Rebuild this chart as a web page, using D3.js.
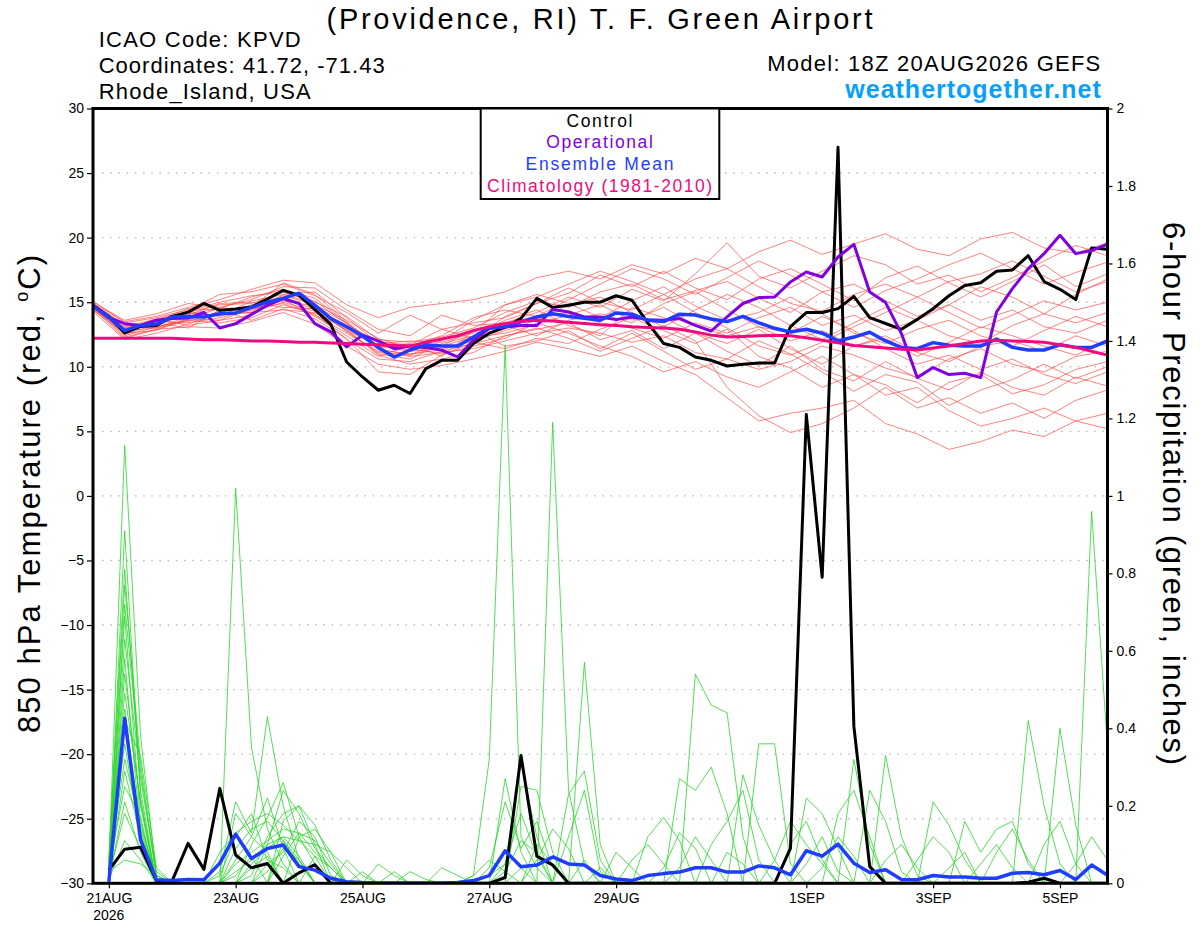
<!DOCTYPE html>
<html>
<head>
<meta charset="utf-8">
<script src="https://cdn.jsdelivr.net/npm/d3@7"></script>
<style>
  body { margin: 0; background: #fff; }
  svg { display: block; font-family: "Liberation Sans", Arial, Helvetica, sans-serif; }
  .axis text { font-size: 14px; fill: #000; font-family: "Liberation Sans", Arial, sans-serif; }
  .axis line { stroke: #000; stroke-width: 1.2; }
  .axis path { display: none; }
</style>
</head>
<body>
<svg id="chart" width="1200" height="927"></svg>
<script>
// GEFS 850 hPa temperature + 6-hour precipitation plume, KPVD, 18Z 20AUG2026 run.
// Thick series are 6-hourly from 18Z 20AUG (index 0) to 18Z 05SEP (index 64).

const controlTemp = [14.76, 13.9, 12.62, 13.13, 13.2, 13.9, 14.23, 14.9, 14.37, 14.47, 14.63, 15.25, 15.92, 15.53, 14.43, 13.29,
  10.37, 9.21, 8.18, 8.57, 7.93, 9.86, 10.5, 10.5, 11.8, 12.6, 13.05, 13.75, 15.3, 14.6, 14.76, 15.0, 15.0, 15.5, 15.15, 13.4,
  11.8, 11.5, 10.75, 10.5, 10.06, 10.2, 10.3, 10.3, 13.1, 14.2, 14.2, 14.5, 15.45, 13.8, 13.35, 12.9, 13.67, 14.5, 15.5, 16.3,
  16.5, 17.4, 17.5, 18.6, 16.6, 16.0, 15.2, 19.2, 19.1];

const operationalTemp = [14.76, 13.8, 13.34, 13.2, 13.6, 13.73, 13.78, 14.2, 13.0, 13.34, 14.06, 14.76, 15.28, 14.9, 13.34, 12.7,
  11.54, 12.45, 12.0, 11.4, 11.6, 11.5, 11.28, 10.76, 12.05, 12.96, 13.08, 13.2, 13.2, 14.43, 14.24, 13.86, 13.86, 13.65, 13.86,
  13.65, 13.6, 13.73, 13.2, 12.77, 13.86, 14.9, 15.36, 15.4, 16.57, 17.34, 16.95, 18.5, 19.48, 15.79, 14.97, 12.57, 9.16, 9.94,
  9.4, 9.5, 9.16, 14.24, 16.05, 17.6, 18.76, 20.18, 18.76, 19.0, 19.5];

const meanTemp = [14.7, 13.85, 12.8, 13.2, 13.3, 13.85, 13.9, 13.85, 14.1, 14.17, 14.6, 15.0, 15.3, 15.7, 14.76, 13.75, 13.1,
  12.4, 11.5, 10.75, 11.3, 11.7, 11.6, 11.6, 12.3, 13.05, 13.1, 13.5, 13.85, 14.1, 13.9, 13.75, 13.6, 14.17, 14.07, 13.6, 13.5,
  14.07, 14.0, 13.7, 13.5, 13.9, 13.4, 12.98, 12.7, 12.9, 12.6, 12.0, 12.3, 12.67, 12.0, 11.5, 11.4, 11.87, 11.66, 11.6, 11.6,
  12.15, 11.5, 11.3, 11.3, 11.7, 11.5, 11.5, 12.0];

const climoTemp = [12.2, 12.2, 12.2, 12.2, 12.2, 12.2, 12.15, 12.1, 12.1, 12.05, 12.0, 12.0, 11.95, 11.9, 11.9, 11.85, 11.8,
  11.75, 11.7, 11.65, 11.6, 11.9, 12.15, 12.4, 12.8, 13.1, 13.35, 13.5, 13.6, 13.55, 13.45, 13.35, 13.25, 13.2, 13.1, 13.05,
  13.0, 12.9, 12.7, 12.45, 12.3, 12.35, 12.4, 12.45, 12.4, 12.25, 12.05, 11.85, 11.65, 11.55, 11.45, 11.35, 11.3, 11.45, 11.6,
  11.8, 12.0, 12.05, 12.0, 11.95, 11.9, 11.7, 11.5, 11.2, 10.9];

// precipitation starts at index 1 (00Z 21AUG)
const controlPrecip = [null, 0.034, 0.088, 0.093, 0.007, 0.007, 0.103, 0.036, 0.245, 0.073, 0.04, 0.051, 0, 0.027, 0.048, 0,
  0, 0, 0, 0, 0, 0, 0, 0, 0, 0, 0.015, 0.33, 0.07, 0.047, 0, 0, 0, 0, 0, 0, 0, 0, 0, 0, 0, 0, 0, 0, 0.09, 1.21, 0.79, 1.9,
  0.405, 0.043, 0, 0, 0, 0, 0, 0, 0, 0, 0, 0.003, 0.013, 0, 0, 0, 0];

const meanPrecip = [null, 0.004, 0.426, 0.112, 0.009, 0.007, 0.01, 0.009, 0.052, 0.127, 0.064, 0.09, 0.099, 0.043, 0.034,
  0.013, 0.004, 0.002, 0.001, 0.001, 0.001, 0.001, 0.001, 0.002, 0.007, 0.02, 0.084, 0.043, 0.047, 0.068, 0.05, 0.047, 0.02,
  0.011, 0.007, 0.02, 0.025, 0.029, 0.04, 0.04, 0.029, 0.029, 0.045, 0.04, 0.022, 0.084, 0.07, 0.101, 0.052, 0.028, 0.035,
  0.01, 0.009, 0.02, 0.016, 0.016, 0.013, 0.013, 0.026, 0.028, 0.022, 0.033, 0.01, 0.047, 0.021];

// ensemble member temperatures, 12-hourly (index k = 18Z 20AUG + 12h*k)
const memberTemps = [
  [14.9, 13.5, 13.9, 14.6, 15.2, 16.0, 16.7, 16.5, 14.8, 13.8, 14.6, 14.9, 15.2, 15.8, 16.9, 17.4, 16.8, 17.9, 17.2, 18.4, 17.6, 18.9, 19.8, 18.7, 19.5, 20.3, 19.1, 18.6, 19.9, 20.4, 19.2, 18.8, 19.6],
  [14.5, 12.2, 12.9, 13.1, 13.0, 13.5, 14.2, 13.3, 11.6, 10.2, 9.8, 10.1, 10.6, 11.2, 11.9, 11.4, 10.8, 11.6, 10.4, 9.4, 7.6, 5.8, 6.4, 6.8, 7.4, 5.6, 4.8, 3.6, 4.2, 5.1, 4.6, 5.8, 6.4],
  [14.8, 13.0, 13.6, 14.2, 14.8, 14.9, 15.8, 15.0, 13.9, 12.1, 11.9, 12.3, 13.0, 14.2, 15.1, 14.6, 15.8, 16.4, 15.2, 15.9, 16.6, 15.3, 14.2, 15.8, 16.4, 15.1, 13.9, 14.8, 16.2, 15.4, 14.1, 15.6, 16.8],
  [14.6, 12.4, 13.1, 13.6, 13.4, 13.8, 14.8, 14.1, 12.1, 10.6, 10.4, 11.2, 11.8, 12.4, 12.9, 13.4, 12.1, 12.8, 11.4, 12.6, 11.2, 10.1, 11.6, 9.8, 8.9, 10.4, 9.1, 8.2, 9.6, 8.4, 7.8, 9.2, 8.5],
  [15.1, 13.4, 13.8, 14.4, 15.6, 15.8, 16.4, 15.5, 14.2, 12.6, 14.0, 12.9, 13.4, 13.8, 14.9, 15.7, 17.1, 16.2, 17.4, 16.1, 15.2, 16.8, 17.6, 16.4, 15.1, 16.9, 17.8, 16.5, 15.4, 16.6, 17.9, 16.2, 17.2],
  [14.4, 12.6, 12.8, 13.8, 14.0, 14.2, 15.0, 14.3, 12.8, 11.0, 10.6, 11.8, 12.4, 13.6, 14.4, 13.2, 12.4, 14.6, 13.8, 12.6, 11.8, 12.9, 11.4, 10.2, 11.6, 12.2, 10.8, 11.9, 13.1, 12.4, 11.6, 10.9, 12.1],
  [14.7, 12.9, 13.4, 14.1, 14.5, 15.4, 16.0, 15.3, 13.4, 11.6, 11.2, 11.4, 12.0, 12.8, 13.6, 14.8, 15.4, 14.2, 13.1, 14.4, 15.6, 14.6, 13.2, 12.1, 13.4, 14.6, 13.6, 12.4, 11.8, 13.2, 14.1, 13.4, 14.2],
  [14.9, 13.2, 13.0, 13.5, 14.3, 14.7, 15.5, 14.8, 13.6, 12.2, 11.4, 11.0, 11.6, 12.2, 13.4, 12.6, 11.6, 10.8, 9.6, 10.4, 9.2, 8.4, 9.6, 10.8, 9.4, 8.6, 7.2, 8.8, 9.4, 7.9, 8.6, 9.8, 10.4],
  [14.5, 12.7, 13.5, 13.4, 13.8, 14.4, 15.2, 13.9, 12.4, 10.8, 11.6, 12.4, 13.8, 14.4, 13.9, 15.2, 16.4, 17.6, 16.8, 15.6, 16.9, 18.2, 17.1, 15.8, 14.6, 15.9, 16.8, 17.9, 18.8, 17.6, 16.4, 17.3, 18.1],
  [14.8, 12.5, 13.3, 14.0, 14.9, 15.0, 14.6, 14.5, 13.0, 11.4, 10.9, 11.6, 12.9, 13.2, 12.4, 13.6, 14.1, 13.4, 14.9, 15.8, 14.4, 13.1, 12.6, 13.9, 12.8, 11.4, 10.2, 10.9, 9.8, 10.6, 9.4, 8.7, 9.6],
  [14.6, 13.1, 13.7, 13.2, 13.6, 14.0, 15.6, 15.8, 13.8, 11.8, 12.0, 11.9, 12.6, 14.8, 15.6, 14.9, 13.8, 15.1, 16.2, 14.7, 13.6, 14.2, 15.4, 14.1, 12.6, 11.8, 12.9, 13.6, 12.4, 11.6, 12.8, 13.9, 13.1],
  [14.7, 12.3, 12.9, 13.7, 13.6, 14.5, 14.9, 14.0, 12.6, 11.2, 10.8, 11.1, 11.4, 12.0, 12.6, 13.0, 12.6, 11.9, 12.4, 11.1, 10.6, 9.8, 10.4, 11.6, 10.9, 9.9, 9.2, 10.6, 11.4, 10.2, 9.6, 10.8, 11.2],
  [15.0, 13.6, 14.1, 14.9, 14.6, 15.2, 16.2, 16.1, 14.4, 12.9, 12.4, 14.0, 13.2, 13.4, 14.2, 15.4, 14.6, 16.0, 15.1, 17.2, 19.6, 17.0, 16.1, 17.4, 18.6, 17.9, 16.4, 17.1, 15.8, 16.9, 18.2, 19.4, 18.6],
  [14.3, 12.1, 12.6, 13.3, 14.2, 14.2, 14.4, 14.2, 12.9, 10.9, 10.2, 10.6, 11.1, 12.4, 13.0, 12.2, 11.2, 12.2, 13.2, 12.0, 8.4, 6.2, 4.9, 5.6, 6.8, 8.4, 6.8, 7.6, 6.4, 7.2, 6.0, 7.4, 8.2],
  [14.8, 13.3, 13.2, 14.3, 15.0, 15.5, 15.8, 15.1, 13.3, 11.9, 11.7, 12.9, 12.2, 13.0, 13.8, 14.2, 13.4, 13.0, 12.2, 13.4, 12.6, 13.8, 14.6, 13.2, 14.0, 12.8, 13.6, 14.8, 13.6, 14.4, 13.1, 12.6, 13.6],
  [14.6, 12.8, 13.0, 13.9, 14.0, 14.8, 15.1, 14.7, 13.4, 11.3, 11.0, 11.3, 12.1, 13.9, 14.9, 16.1, 15.0, 14.4, 15.6, 14.2, 13.0, 11.6, 10.9, 11.9, 13.1, 14.2, 15.4, 14.2, 13.0, 14.0, 15.1, 14.4, 15.0],
  [14.9, 12.6, 13.6, 14.5, 14.4, 14.6, 16.5, 15.6, 13.5, 11.5, 11.8, 10.8, 12.8, 11.6, 12.0, 12.8, 11.4, 12.6, 11.2, 9.8, 10.6, 12.0, 11.0, 9.6, 8.1, 9.4, 8.8, 7.0, 8.2, 9.0, 10.2, 9.1, 10.0],
  [14.4, 12.9, 13.7, 14.2, 13.9, 15.1, 15.6, 14.9, 12.7, 11.1, 10.9, 12.0, 13.6, 14.8, 15.4, 16.4, 17.4, 16.6, 15.6, 16.8, 17.6, 16.2, 14.9, 14.3, 15.6, 16.4, 15.4, 16.6, 17.2, 18.2, 17.0, 15.8, 16.6],
  [14.7, 13.0, 13.1, 13.6, 14.6, 14.3, 15.4, 14.4, 12.8, 11.7, 11.3, 11.6, 12.3, 12.6, 13.3, 14.0, 14.8, 13.6, 14.6, 13.2, 12.4, 13.1, 12.0, 12.8, 11.6, 12.4, 11.1, 10.4, 11.6, 12.0, 11.2, 12.4, 11.6],
  [14.6, 12.7, 13.4, 13.0, 14.4, 13.6, 14.5, 13.7, 12.2, 9.6, 9.4, 10.9, 11.9, 11.4, 12.2, 11.8, 12.9, 13.8, 12.8, 11.8, 12.9, 10.8, 9.9, 8.4, 9.4, 7.8, 8.4, 6.6, 5.4, 6.0, 6.8, 5.8, 5.2],
];

// ensemble member 6-hour precip: [index, inches] for the non-zero steps, all others are 0
const memberPrecip = [
  [[1, .05], [2, 1.13], [3, .38], [4, .02], [9, .06], [10, .12], [11, .08], [26, .05], [27, .18], [28, .07], [45, .05], [46, .12], [47, .03]],
  [[1, .03], [2, .91], [3, .22], [9, 1.02], [10, .35], [11, .14], [12, .05], [37, .04], [38, .12], [39, .06]],
  [[1, .06], [2, .77], [3, .31], [4, .01], [8, .03], [9, .21], [10, .13], [11, .43], [12, .2], [13, .06], [25, .02], [26, .05], [27, .31], [28, .12], [59, .42], [60, .2], [61, .05]],
  [[1, .02], [2, .69], [3, .16], [10, .1], [11, .17], [12, .26], [13, .12], [14, .05], [24, .02], [25, .32], [26, 1.39], [27, .12], [28, .04]],
  [[1, .04], [2, .63], [3, .27], [4, .03], [8, .08], [9, .13], [10, .16], [11, .18], [12, .15], [13, .11], [14, .07], [29, 1.19], [30, .24], [31, .05], [48, .32], [49, .1]],
  [[1, .02], [2, .54], [3, .2], [11, .1], [12, .24], [13, .18], [14, .09], [15, .04], [31, .57], [32, .1], [38, .54], [39, .46], [40, .44], [41, .12]],
  [[1, .05], [2, .45], [3, .14], [12, .16], [13, .2], [14, .1], [16, .06], [17, .02], [30, .23], [31, .29], [32, .06], [42, .36], [43, .36], [44, .05]],
  [[1, .03], [2, .42], [3, .33], [4, .04], [10, .04], [11, .07], [13, .12], [14, .14], [15, .08], [27, .25], [28, .24], [29, .08], [50, .33], [51, .12], [52, .02]],
  [[1, .01], [2, .29], [3, .12], [9, .03], [10, .06], [11, .1], [12, .12], [13, .11], [14, .1], [15, .08], [16, .04], [37, .27], [38, .24], [39, .3], [40, .18], [53, .21], [54, .15], [55, .06]],
  [[1, .04], [2, .25], [3, .17], [9, .18], [10, .12], [11, .22], [12, .09], [18, .05], [19, .02], [26, .27], [27, .08], [41, .28], [42, .15], [43, .06], [63, .96], [64, .35]],
  [[1, .02], [2, .18], [3, .09], [8, .02], [9, .12], [10, .18], [11, .06], [12, .04], [20, .03], [21, .01], [28, .06], [29, .14], [30, .09], [45, .22], [46, .18], [47, .09], [61, .4], [62, .15]],
  [[1, .06], [2, .81], [3, .24], [11, .05], [12, .08], [13, .16], [14, .12], [15, .02], [33, .08], [34, .04], [55, .16], [56, .08], [57, .14], [58, .16], [59, .05]],
  [[1, .01], [2, .11], [3, .06], [10, .02], [11, .12], [12, .18], [13, .2], [14, .15], [15, .06], [22, .04], [23, .02], [35, .12], [36, .17], [37, .11], [49, .24], [50, .16], [51, .03]],
  [[1, .03], [2, .06], [3, .05], [4, .02], [9, .09], [10, .14], [11, .16], [12, .11], [13, .05], [25, .04], [26, .21], [27, .09], [28, .16], [29, .04], [43, .06], [44, .16], [45, .1], [46, .05]],
  [[1, .04], [2, .36], [3, .11], [12, .07], [13, .13], [14, .11], [15, .05], [17, .03], [30, .12], [31, .24], [32, .03], [39, .1], [40, .16], [41, .24], [42, .06], [57, .08], [58, .14], [59, .06]],
  [[1, .02], [2, .72], [3, .29], [4, .02], [10, .05], [11, .09], [12, .12], [13, .07], [26, .03], [27, .11], [28, .08], [34, .06], [35, .1], [36, .05], [47, .18], [48, .24], [49, .12], [60, .1], [61, .16], [62, .05]],
  [[1, .05], [2, .49], [3, .21], [9, .05], [10, .08], [11, .11], [12, .14], [13, .13], [14, .08], [15, .04], [36, .04], [37, .13], [38, .09], [52, .06], [53, .12], [54, .08]],
  [[1, .03], [2, .58], [3, .13], [11, .03], [12, .09], [13, .06], [24, .02], [25, .06], [26, .03], [44, .1], [45, .16], [46, .06], [56, .05], [57, .1], [58, .04]],
  [[1, .01], [2, .21], [3, .08], [14, .07], [15, .04], [19, .03], [28, .1], [29, .05], [32, .04], [40, .08], [41, .05], [50, .06], [51, .1], [52, .04], [62, .05], [63, .12], [64, .06]],
  [[1, .04], [2, .32], [3, .15], [4, .01], [9, .02], [10, .07], [12, .11], [13, .06], [27, .04], [31, .06], [46, .04], [47, .12], [48, .07], [54, .04], [55, .08]],
];

const tempTicks = [-30, -25, -20, -15, -10, -5, 0, 5, 10, 15, 20, 25, 30];
const precipTicks = [0, 0.2, 0.4, 0.6, 0.8, 1, 1.2, 1.4, 1.6, 1.8, 2];
const dayTicks = ['2026-08-21', '2026-08-23', '2026-08-25', '2026-08-27', '2026-08-29', '2026-09-01', '2026-09-03', '2026-09-05'];
const dayLabels = ['21AUG', '23AUG', '25AUG', '27AUG', '29AUG', '1SEP', '3SEP', '5SEP'];

const runStart = new Date(Date.UTC(2026, 7, 20, 18));
const runEnd = new Date(Date.UTC(2026, 8, 5, 18));

const COLORS = {
  member: '#ff4646',
  precip: '#27d627',
  control: '#000000',
  operational: '#8000e0',
  mean: '#1f3dff',
  climo: '#f00a80',
  site: '#0aa0fa',
};

const plot = { left: 93, right: 1107.5, top: 108.5, bottom: 883.3 };

const svg = d3.select('#chart');

const x = d3.scaleUtc().domain([runStart, runEnd]).range([plot.left, plot.right]);
const yT = d3.scaleLinear().domain([-30, 30]).range([plot.bottom, plot.top]);
const yP = d3.scaleLinear().domain([0, 2]).range([plot.bottom, plot.top]);

const stepTime = (hours, i) => d3.utcHour.offset(runStart, hours * i);
const toPoints = (values, hours) =>
  values.map((v, i) => ({ t: stepTime(hours, i), v })).filter(d => d.v !== null);

const tempLine = d3.line().x(d => x(d.t)).y(d => yT(d.v));
const precipLine = d3.line().x(d => x(d.t)).y(d => yP(d.v));

svg.append('defs')
  .append('clipPath')
  .attr('id', 'plot-clip')
  .append('rect')
  .attr('x', plot.left)
  .attr('y', plot.top)
  .attr('width', plot.right - plot.left)
  .attr('height', plot.bottom - plot.top);

// dotted grid on the temperature levels
svg.append('g')
  .selectAll('line')
  .data(tempTicks.filter(v => v > -30 && v < 30))
  .join('line')
  .attr('x1', plot.left + 9)
  .attr('x2', plot.right)
  .attr('y1', d => yT(d))
  .attr('y2', d => yT(d))
  .attr('stroke', '#bdbdbd')
  .attr('stroke-width', 1.4)
  .attr('stroke-dasharray', '1.6,6.6');

const lines = svg.append('g').attr('clip-path', 'url(#plot-clip)');

lines.append('g')
  .selectAll('path')
  .data(memberTemps)
  .join('path')
  .attr('d', m => tempLine(toPoints(m, 12)))
  .attr('fill', 'none')
  .attr('stroke', COLORS.member)
  .attr('stroke-opacity', 0.85)
  .attr('stroke-width', 0.8);

lines.append('g')
  .selectAll('path')
  .data(memberPrecip)
  .join('path')
  .attr('d', m => {
    const lookup = new Map(m);
    const values = d3.range(65).map(i => (i === 0 ? null : lookup.get(i) || 0));
    return precipLine(toPoints(values, 6));
  })
  .attr('fill', 'none')
  .attr('stroke', COLORS.precip)
  .attr('stroke-width', 0.8);

const thick = [
  { values: controlTemp, line: tempLine, color: COLORS.control, width: 3 },
  { values: controlPrecip, line: precipLine, color: COLORS.control, width: 3 },
  { values: operationalTemp, line: tempLine, color: COLORS.operational, width: 3 },
  { values: meanTemp, line: tempLine, color: COLORS.mean, width: 3.5 },
  { values: meanPrecip, line: precipLine, color: COLORS.mean, width: 3.5 },
  { values: climoTemp, line: tempLine, color: COLORS.climo, width: 3 },
];

lines.append('g')
  .selectAll('path')
  .data(thick)
  .join('path')
  .attr('d', s => s.line(toPoints(s.values, 6)))
  .attr('fill', 'none')
  .attr('stroke', s => s.color)
  .attr('stroke-width', s => s.width)
  .attr('stroke-linejoin', 'round');

// axes
svg.append('g')
  .attr('class', 'axis')
  .attr('transform', `translate(${plot.left},0)`)
  .call(d3.axisLeft(yT).tickValues(tempTicks).tickSize(6).tickPadding(3));

svg.append('g')
  .attr('class', 'axis')
  .attr('transform', `translate(${plot.right},0)`)
  .call(d3.axisRight(yP).tickValues(precipTicks).tickSize(5).tickPadding(4).tickFormat(d => String(d)));

const tickDates = dayTicks.map(s => new Date(s + 'T00:00:00Z'));
svg.append('g')
  .attr('class', 'axis')
  .attr('transform', `translate(0,${plot.bottom})`)
  .call(d3.axisBottom(x).tickValues(tickDates).tickSize(5).tickPadding(5).tickFormat((d, i) => dayLabels[i]));

svg.append('text')
  .attr('x', x(tickDates[0]))
  .attr('y', 919.5)
  .attr('text-anchor', 'middle')
  .attr('font-size', 14)
  .text('2026');

svg.append('rect')
  .attr('x', plot.left)
  .attr('y', plot.top)
  .attr('width', plot.right - plot.left)
  .attr('height', plot.bottom - plot.top)
  .attr('fill', 'none')
  .attr('stroke', '#000')
  .attr('stroke-width', 3);

// legend box at the top of the plot
const legend = svg.append('g');
legend.append('rect')
  .attr('x', 480.7)
  .attr('y', plot.top)
  .attr('width', 238.6)
  .attr('height', 199 - plot.top)
  .attr('fill', '#fff')
  .attr('stroke', '#000')
  .attr('stroke-width', 2);

const legendItems = [
  { label: 'Control', color: COLORS.control, y: 126.7, len: 66 },
  { label: 'Operational', color: COLORS.operational, y: 148.3, len: 106.7 },
  { label: 'Ensemble Mean', color: COLORS.mean, y: 169.5, len: 148 },
  { label: 'Climatology (1981-2010)', color: COLORS.climo, y: 191.7, len: 225 },
];
legend.selectAll('text')
  .data(legendItems)
  .join('text')
  .attr('x', 599.5)
  .attr('y', d => d.y)
  .attr('text-anchor', 'middle')
  .attr('font-size', 17.5)
  .attr('fill', d => d.color)
  .attr('textLength', d => d.len)
  .attr('lengthAdjust', 'spacing')
  .text(d => d.label);

// header texts
const header = [
  { text: '(Providence, RI) T. F. Green Airport', x: 599.5, y: 28.5, size: 29, anchor: 'middle', len: 546 },
  { text: 'ICAO Code: KPVD', x: 98.7, y: 46.5, size: 22, anchor: 'start', len: 202 },
  { text: 'Coordinates: 41.72, -71.43', x: 98.7, y: 72.7, size: 22, anchor: 'start', len: 286 },
  { text: 'Rhode_Island, USA', x: 98.7, y: 99.3, size: 22, anchor: 'start', len: 212 },
  { text: 'Model: 18Z 20AUG2026 GEFS', x: 1100.3, y: 70.7, size: 22, anchor: 'end', len: 333 },
  { text: 'weathertogether.net', x: 1100.8, y: 97.7, size: 25, anchor: 'end', len: 255.5, bold: true, color: COLORS.site },
];
svg.append('g')
  .selectAll('text')
  .data(header)
  .join('text')
  .attr('x', d => d.x)
  .attr('y', d => d.y)
  .attr('text-anchor', d => d.anchor)
  .attr('font-size', d => d.size)
  .attr('font-weight', d => (d.bold ? 'bold' : 'normal'))
  .attr('fill', d => d.color || '#000')
  .attr('textLength', d => d.len)
  .attr('lengthAdjust', 'spacing')
  .text(d => d.text);

// axis titles
const leftTitle = svg.append('text')
  .attr('transform', `translate(40,494) rotate(-90)`)
  .attr('text-anchor', 'middle')
  .attr('font-size', 31)
  .attr('textLength', 478)
  .attr('lengthAdjust', 'spacing');
leftTitle.append('tspan').text('850 hPa Temperature (red, ');
leftTitle.append('tspan').attr('font-size', 18).attr('dy', -12).text('o');
leftTitle.append('tspan').attr('dy', 12).text('C)');

svg.append('text')
  .attr('transform', `translate(1163,493.5) rotate(90)`)
  .attr('text-anchor', 'middle')
  .attr('font-size', 31)
  .attr('textLength', 543)
  .attr('lengthAdjust', 'spacing')
  .text('6-hour Precipitation (green, inches)');
</script>
</body>
</html>
